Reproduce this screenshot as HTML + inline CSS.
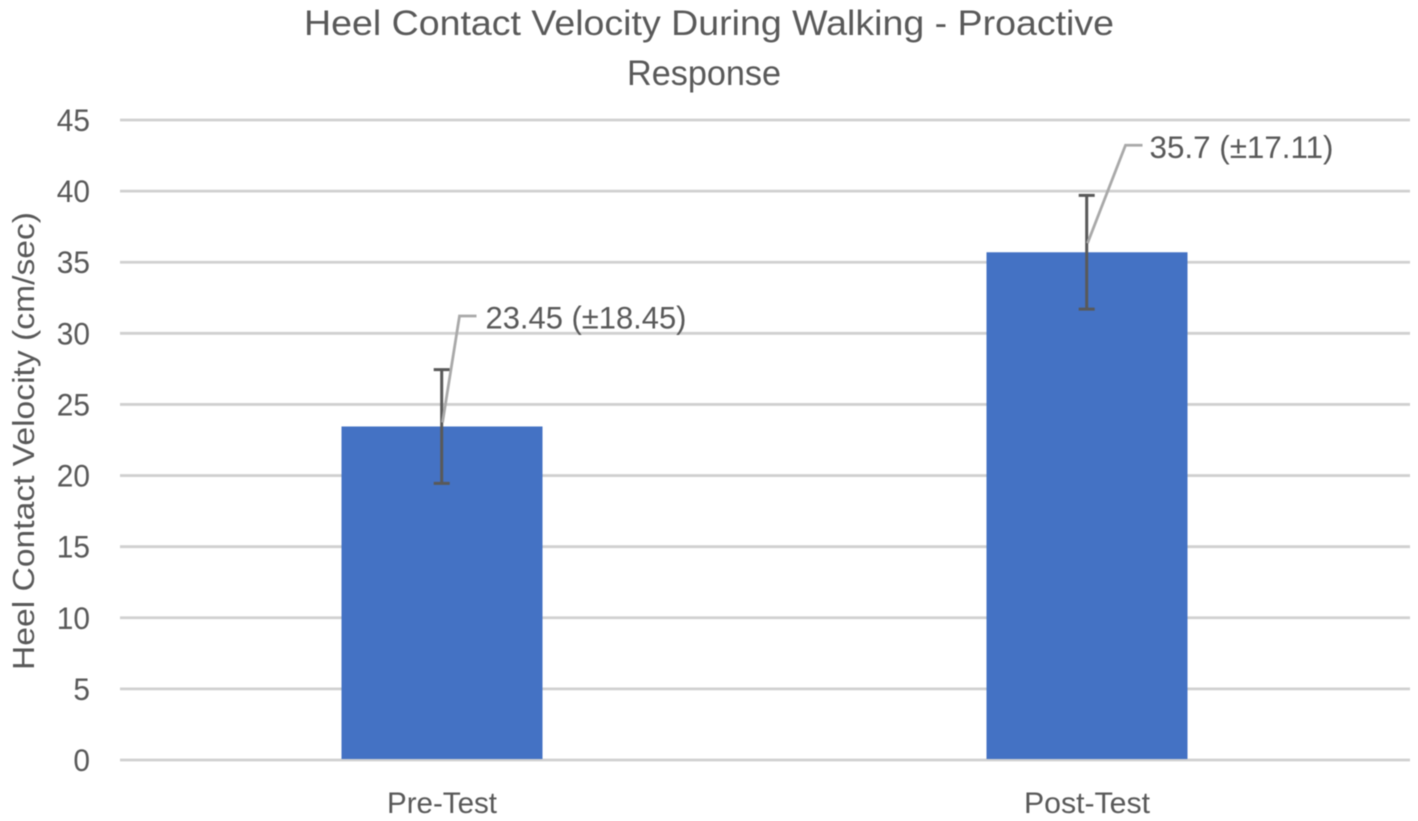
<!DOCTYPE html>
<html lang="en">
<head>
<meta charset="utf-8">
<title>Heel Contact Velocity During Walking - Proactive Response</title>
<style>
  html, body { margin: 0; padding: 0; background: #fff; }
  body { width: 1418px; height: 821px; overflow: hidden; }
  svg { display: block; filter: blur(0.45px); }
  text { font-family: "Liberation Sans", "DejaVu Sans", sans-serif; fill: #595959; }
</style>
</head>
<body>
<svg id="chart" xmlns="http://www.w3.org/2000/svg" width="1418" height="821" viewBox="0 0 1418 821">
  <rect x="0" y="0" width="1418" height="821" fill="#ffffff"/>
  <text x="304" y="35" font-size="35" textLength="810" lengthAdjust="spacingAndGlyphs">Heel Contact Velocity During Walking - Proactive</text>
  <text x="627" y="85" font-size="35" textLength="154" lengthAdjust="spacingAndGlyphs">Response</text>
  <text transform="translate(34,670) rotate(-90)" font-size="31" textLength="458" lengthAdjust="spacingAndGlyphs">Heel Contact Velocity (cm/sec)</text>
  <g id="grid"></g>
  <g id="yticks"></g>
  <g id="bars"></g>
  <g id="errors"></g>
  <g id="leaders"></g>
  <g id="labels"></g>
  <g id="xticks"></g>
</svg>
<script>
const categories = ["Pre-Test", "Post-Test"];
const means = [23.45, 35.7];
const printedSD = ["18.45", "17.11"];
const errorBarSizes = [4, 4];
const yTickValues = [0, 5, 10, 15, 20, 25, 30, 35, 40, 45];

const NS = "http://www.w3.org/2000/svg";
const plot = { left: 120, right: 1410, top: 120, bottom: 760 };
const yMax = 45;
const barWidth = 201;

function yScale(v) {
  return plot.bottom - (v / yMax) * (plot.bottom - plot.top);
}
function xCenter(i) {
  return plot.left + (i + 0.5) * (plot.right - plot.left) / categories.length;
}
function make(tag, attrs, parentId) {
  const el = document.createElementNS(NS, tag);
  for (const k in attrs) el.setAttribute(k, attrs[k]);
  document.getElementById(parentId).appendChild(el);
  return el;
}
function leaderLayout(i) {
  return i === 0
    ? { startDy: -4, elbowDx: 17, elbowDy: -110.5, endDx: 34, textDx: 43, textLen: 201, tickLen: 110 }
    : { startDy: -9, elbowDx: 38, elbowDy: -107, endDx: 55, textDx: 62, textLen: 184, tickLen: 126 };
}

yTickValues.forEach(function (v) {
  const line = make("line", { x1: plot.left, x2: plot.right, y1: yScale(v), y2: yScale(v), stroke: "#d0d0d0", "stroke-width": 2.8 }, "grid");
  
  
  const text = String(v);
  const label = make("text", { x: 90, y: yScale(v) + 11, "text-anchor": "end", "font-size": 31.5, textLength: text.length * 16.6, lengthAdjust: "spacingAndGlyphs" }, "yticks");
  label.textContent = text;
  
  
});

categories.forEach(function (c, i) {
  const cx = xCenter(i);
  const top = yScale(means[i]);
  const errHi = yScale(means[i] + errorBarSizes[i]);
  const errLo = yScale(means[i] - errorBarSizes[i]);
  const ex = cx - 0.8;

  const bar = make("rect", { x: cx - barWidth / 2 - 0.5, y: top, width: barWidth, height: plot.bottom - top - 1, fill: "#4472c4" }, "bars");
  
  

  const stem = make("line", { x1: ex, x2: ex, y1: errHi, y2: errLo, stroke: "#595959", "stroke-width": 3 }, "errors");
  
  
  const capTop = make("line", { x1: ex - 8, x2: ex + 8, y1: errHi, y2: errHi, stroke: "#595959", "stroke-width": 3 }, "errors");
  
  
  const capBottom = make("line", { x1: ex - 8, x2: ex + 8, y1: errLo, y2: errLo, stroke: "#595959", "stroke-width": 3 }, "errors");
  
  

  const L = leaderLayout(i);
  const points = [
    [cx, top + L.startDy],
    [cx + L.elbowDx, top + L.elbowDy],
    [cx + L.endDx, top + L.elbowDy]
  ].map(function (p) { return p.join(","); }).join(" ");
  const leader = make("polyline", { points: points, fill: "none", stroke: "#a9a9a9", "stroke-width": 2.8 }, "leaders");
  
  

  const label = make("text", { x: cx + L.textDx, y: top + L.elbowDy + 12.5, "font-size": 31.5, textLength: L.textLen, lengthAdjust: "spacingAndGlyphs" }, "labels");
  label.textContent = means[i] + " (\u00b1" + printedSD[i] + ")";
  
  

  const tick = make("text", { x: cx - 0.5, y: 813, "text-anchor": "middle", "font-size": 29.5, textLength: L.tickLen, lengthAdjust: "spacingAndGlyphs" }, "xticks");
  tick.textContent = c;
  
  
});
</script>
</body>
</html>
